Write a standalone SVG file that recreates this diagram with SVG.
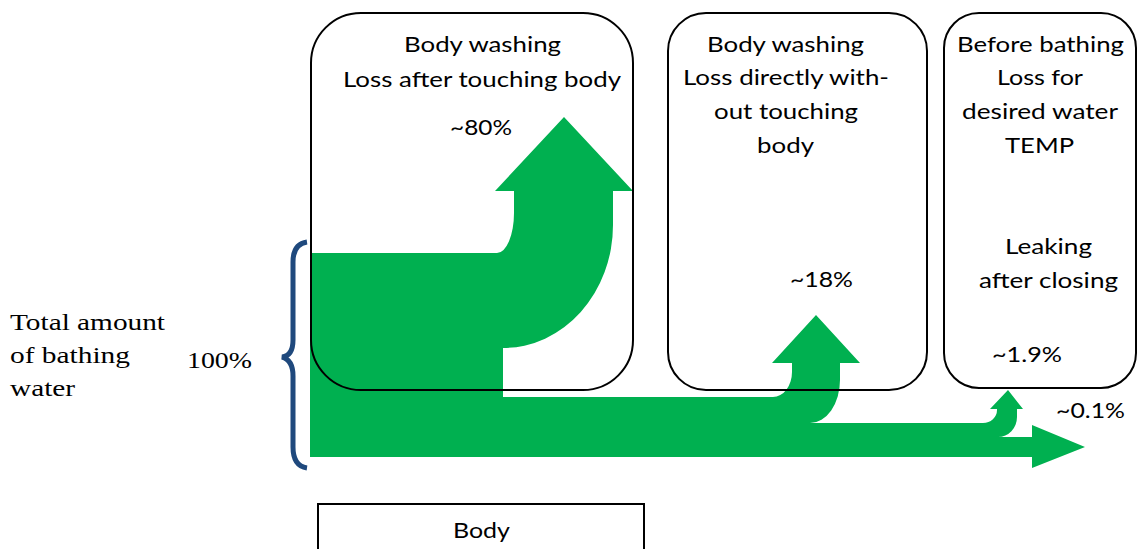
<svg xmlns="http://www.w3.org/2000/svg" width="1138" height="549" viewBox="0 0 1138 549">
<style>
.box{fill:none;stroke:#000;stroke-width:2}
.t{font-family:Lato,"Liberation Sans",sans-serif;font-size:22px;fill:#000;text-anchor:middle}
.s{font-family:"Liberation Serif",serif;font-size:24px;fill:#000}
</style>
<rect width="1138" height="549" fill="#fff"/>
<g id="connectors">
<path id="flow" fill="#00B050" d="M310,253 L497,253 A17,40 0 0 0 514,213 L514,191 L495,191 L564,117 L633,191 L613,191 L613,225 A110,123 0 0 1 503,348 L503,397 L773,397 A19,25 0 0 0 792,372 L792,363 L772,363 L816,315 L860,363 L840,363 L840,380 A30,43 0 0 1 810,423 L983,423 A14,13 0 0 0 997,410 L997,409 L990,409 L1008,390 L1023,409 L1017,409 L1017,417 A19,20 0 0 1 998,437 L1032,437 L1032,425 L1085,447 L1032,468 L1032,457 L310,457 Z"/>
<path id="brace" fill="none" stroke="#1F497D" stroke-width="5" d="M307,242 Q293,244 293,262 L293,340 Q293,356 282,357 Q293,360 293,376 L293,447 Q293,466 307,468"/>
</g>
<g id="box1"><rect class="box" x="311" y="13" width="322" height="377" rx="50" ry="50"/>
<text class="t" x="482.5" y="52" textLength="157" lengthAdjust="spacingAndGlyphs">Body washing</text>
<text class="t" x="482" y="87" textLength="278" lengthAdjust="spacingAndGlyphs">Loss after touching body</text>
<text class="t" x="481" y="135" textLength="62" lengthAdjust="spacingAndGlyphs">~80%</text></g>
<g id="box2"><rect class="box" x="668" y="13" width="259" height="377" rx="38" ry="38"/>
<text class="t" x="785.5" y="52" textLength="157" lengthAdjust="spacingAndGlyphs">Body washing</text>
<text class="t" x="786" y="85" textLength="206" lengthAdjust="spacingAndGlyphs">Loss directly with-</text>
<text class="t" x="786" y="119" textLength="144" lengthAdjust="spacingAndGlyphs">out touching</text>
<text class="t" x="785.5" y="153" textLength="57" lengthAdjust="spacingAndGlyphs">body</text>
<text class="t" x="821.5" y="287" textLength="63" lengthAdjust="spacingAndGlyphs">~18%</text></g>
<g id="box3"><rect class="box" x="944" y="13" width="192" height="375" rx="35" ry="35"/>
<text class="t" x="1040.5" y="52" textLength="167" lengthAdjust="spacingAndGlyphs">Before bathing</text>
<text class="t" x="1040" y="85" textLength="86" lengthAdjust="spacingAndGlyphs">Loss for</text>
<text class="t" x="1040" y="119" textLength="156" lengthAdjust="spacingAndGlyphs">desired water</text>
<text class="t" x="1039.5" y="153" textLength="69" lengthAdjust="spacingAndGlyphs">TEMP</text>
<text class="t" x="1048.5" y="254" textLength="87" lengthAdjust="spacingAndGlyphs">Leaking</text>
<text class="t" x="1048.5" y="288" textLength="139" lengthAdjust="spacingAndGlyphs">after closing</text>
<text class="t" x="1027" y="362" textLength="70" lengthAdjust="spacingAndGlyphs">~1.9%</text></g>
<g id="label01"><text class="t" x="1090.5" y="418" textLength="69" lengthAdjust="spacingAndGlyphs">~0.1%</text></g>
<g id="body"><rect class="box" x="318" y="504" width="326" height="60"/>
<text class="t" x="481.5" y="538" textLength="57" lengthAdjust="spacingAndGlyphs">Body</text></g>
<g id="total"><text class="s" x="10" y="330" textLength="155" lengthAdjust="spacingAndGlyphs">Total amount</text>
<text class="s" x="10" y="363" textLength="120" lengthAdjust="spacingAndGlyphs">of bathing</text>
<text class="s" x="10" y="396" textLength="65" lengthAdjust="spacingAndGlyphs">water</text>
<text class="s" x="187" y="368" textLength="65" lengthAdjust="spacingAndGlyphs">100%</text></g>
</svg>
